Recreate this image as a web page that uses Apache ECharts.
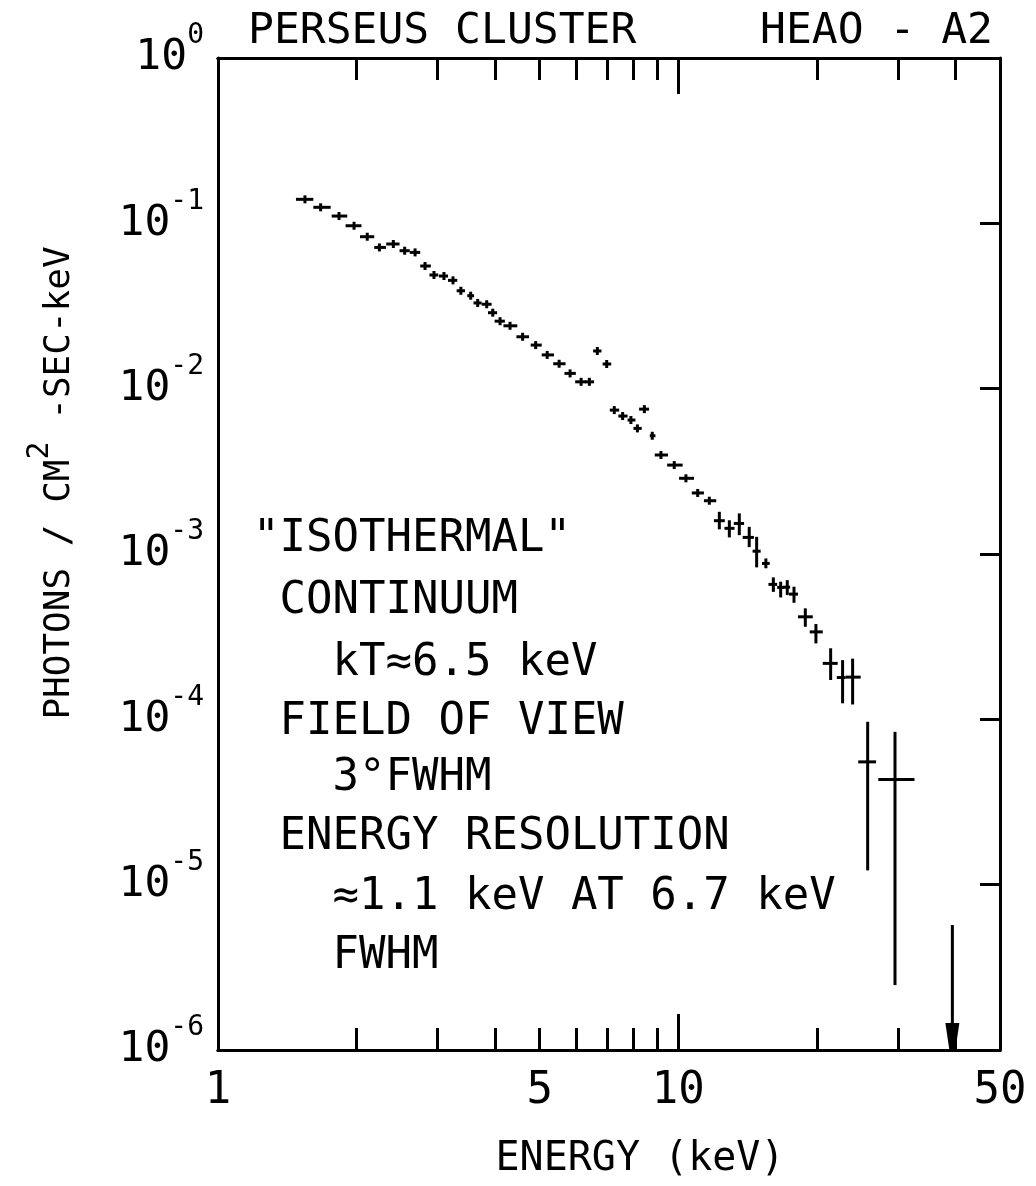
<!DOCTYPE html>
<html>
<head>
<meta charset="utf-8">
<script src="https://cdn.jsdelivr.net/npm/echarts@6/dist/echarts.min.js"></script>
<style>
html,body{margin:0;padding:0;background:#fff;}
#chart{width:1036px;height:1186px;}
</style>
</head>
<body>
<div id="chart"></div>
<script>
// ---------------- DATA ----------------
const energy = [1.545,1.671,1.832,1.975,2.11,2.242,2.404,2.544,2.68,2.817,2.946,3.097,3.24,3.37,3.54,3.666,3.835,3.953,4.10,4.31,4.59,4.90,5.19,5.51,5.82,6.15,6.41,6.67,6.99,7.26,7.57,7.89,8.15,8.44,8.78,9.17,9.80,10.39,11.02,11.68,12.28,12.91,13.57,14.26,14.80,15.50,16.09,16.69,17.25,17.84,18.88,19.91,21.43,22.75,23.92,25.79,29.57];
const flux = [0.1397,0.125,0.1107,0.0967,0.083,0.0715,0.075,0.0683,0.0667,0.0552,0.0487,0.048,0.0452,0.0391,0.0365,0.033,0.0324,0.0288,0.0256,0.024,0.0206,0.01835,0.016,0.01415,0.01237,0.0110,0.0110,0.0169,0.0141,0.00742,0.00683,0.00646,0.00575,0.00752,0.00519,0.00397,0.00345,0.00287,0.00234,0.0021,0.00159,0.00143,0.00153,0.00126,0.00104,0.000877,0.000655,0.000628,0.00063,0.000572,0.000417,0.000338,0.000218,0.000179,0.00018,5.53e-5,4.33e-5];
const energyLow = [1.477,1.611,1.766,1.893,2.035,2.185,2.32,2.48,2.61,2.75,2.88,3.02,3.16,3.30,3.48,3.59,3.74,3.86,3.99,4.17,4.45,4.78,5.05,5.35,5.66,5.97,6.27,6.53,6.85,7.10,7.41,7.76,7.99,8.22,8.67,8.89,9.46,10.04,10.7,11.37,11.95,12.60,13.2,13.8,14.5,15.2,15.7,16.4,16.9,17.4,18.2,19.3,20.6,22.1,23.1,24.6,27.2];
const energyHigh = [1.611,1.757,1.909,2.05,2.185,2.317,2.48,2.61,2.75,2.9,3.01,3.16,3.31,3.44,3.60,3.74,3.93,4.04,4.20,4.47,4.74,5.05,5.37,5.69,5.99,6.31,6.56,6.81,7.15,7.44,7.76,8.07,8.33,8.64,8.92,9.50,10.22,10.82,11.37,12.09,12.62,13.25,13.9,14.6,15.1,15.8,16.4,17.0,17.5,18.2,19.6,20.6,22.2,23.1,24.9,26.9,32.6];
const fluxLow = [null,null,null,null,null,null,null,null,null,null,null,null,null,null,null,null,null,null,null,null,null,null,null,null,null,null,null,null,null,null,null,null,null,null,null,null,null,null,null,null,0.00141,0.00126,0.0013,0.0011,0.00083,0.00082,0.00059,0.000546,0.000564,0.000507,0.000363,0.000288,0.000173,0.000125,0.000123,1.22e-5,2.47e-6];
const fluxHigh = [null,null,null,null,null,null,null,null,null,null,null,null,null,null,null,null,null,null,null,null,null,null,null,null,null,null,null,null,null,null,null,null,null,null,null,null,null,null,null,null,0.0018,0.0016,0.00176,0.00146,0.00127,0.00094,0.000722,0.00068,0.000695,0.000634,0.000469,0.000377,0.000269,0.000228,0.000233,9.66e-5,8.4e-5];
const limitEnergy = [39.4];
const limitFlux = [5.7e-6];

const xMinorTicks = [2,3,4,5,6,7,8,9,20,30,40];
const xMajorTicks = [10];
const xTickLabels = [1,5,10,50];
const yTickValues = [1e-6,1e-5,1e-4,1e-3,1e-2,1e-1,1];
const yRightTicks = [1e-5,1e-4,1e-3,1e-2,1e-1];

const titleLeft = 'PERSEUS CLUSTER';
const titleRight = 'HEAO - A2';
const xTitle = 'ENERGY (keV)';
const noteLines = ['"ISOTHERMAL"',' CONTINUUM','   kT≈6.5 keV',' FIELD OF VIEW','   3°FWHM',' ENERGY RESOLUTION','   ≈1.1 keV AT 6.7 keV','   FWHM'];

// ---------------- CHART ----------------
const FONT = "'DejaVu Sans Mono', monospace";
const BLACK = '#000';
const chart = echarts.init(document.getElementById('chart'), null, {renderer:'canvas'});

const lineStyle = {color: BLACK, width: 3};
function xAxisDef(position, ticks, len, labels) {
  return {
    type: 'log', logBase: 10, min: 1, max: 50, position: position,
    axisLine: {show: true, lineStyle: lineStyle},
    axisTick: {show: true, inside: true, length: len, customValues: ticks, lineStyle: lineStyle},
    axisLabel: labels ? {show: true, customValues: labels, margin: 20, color: BLACK, fontSize: 44, fontFamily: FONT,
      formatter: v => String(Math.round(v))} : {show: false},
    splitLine: {show: false}, minorTick: {show: false}
  };
}

const SMALL = 4;
function renderPoint(params, api) {
  const i = params.dataIndex;
  const c = api.coord([energy[i], flux[i]]);
  const l = api.coord([energyLow[i], flux[i]]);
  const r = api.coord([energyHigh[i], flux[i]]);
  let top = c[1] - SMALL, bot = c[1] + SMALL;
  if (fluxLow[i] != null) {
    top = api.coord([energy[i], fluxHigh[i]])[1];
    bot = api.coord([energy[i], fluxLow[i]])[1];
  }
  const st = {stroke: BLACK, lineWidth: 3};
  return {type: 'group', children: [
    {type: 'line', shape: {x1: l[0], y1: c[1], x2: r[0], y2: c[1]}, style: st},
    {type: 'line', shape: {x1: c[0], y1: top, x2: c[0], y2: bot}, style: st}
  ]};
}
function renderLimit(params, api) {
  const i = params.dataIndex;
  const p = api.coord([limitEnergy[i], limitFlux[i]]);
  const b = api.coord([limitEnergy[i], 1e-6]);
  const x = p[0], yb = b[1];
  return {type: 'group', children: [
    {type: 'line', shape: {x1: x, y1: p[1], x2: x, y2: yb - 20}, style: {stroke: BLACK, lineWidth: 3}},
    {type: 'polygon', shape: {points: [[x-7, yb-27],[x+7, yb-27],[x+3, yb],[x-3, yb]]}, style: {fill: BLACK}}
  ]};
}

const graphics = [
  {type: 'text', left: 248, top: 10, style: {text: titleLeft, font: '43px ' + FONT, fill: BLACK}},
  {type: 'text', left: 760, top: 10, style: {text: titleRight, font: '43px ' + FONT, fill: BLACK}},
  {type: 'text', x: 640, y: 1160, style: {text: xTitle, font: '40px ' + FONT, fill: BLACK, align: 'center', verticalAlign: 'middle'}},
  {type: 'text', x: 60, y: 483, rotation: Math.PI / 2,
    style: {text: '{a|PHOTONS / CM}{s|2}{a| -SEC-keV}', align: 'center', verticalAlign: 'middle',
      rich: {a: {fontSize: 36, fontFamily: FONT, fill: BLACK, color: BLACK, lineHeight: 70},
             s: {fontSize: 30, fontFamily: FONT, fill: BLACK, color: BLACK, lineHeight: 30, verticalAlign: 'top'}}}}
];
const noteY = [540, 602, 664, 723, 779, 838, 898, 957];
noteLines.forEach((t, k) => {
  graphics.push({type: 'text', x: 253, y: noteY[k], style: {text: t, font: '44px ' + FONT, fill: BLACK, verticalAlign: 'middle'}});
});

const option = {
  backgroundColor: '#fff',
  animation: false,
  grid: {left: 218, right: 36, top: 58, bottom: 136, show: false},
  xAxis: [
    xAxisDef('bottom', xMinorTicks, 22, null),
    xAxisDef('bottom', xMajorTicks, 36, xTickLabels),
    xAxisDef('top', xMinorTicks, 22, null),
    xAxisDef('top', xMajorTicks, 36, null)
  ],
  yAxis: [
    {type: 'log', logBase: 10, min: 1e-6, max: 1, position: 'left',
      axisLine: {show: true, lineStyle: lineStyle}, axisTick: {show: false}, splitLine: {show: false},
      axisLabel: {show: true, customValues: yTickValues, margin: 14,
        formatter: v => '{b|10}{s|' + Math.round(Math.log10(v)) + '}',
        rich: {b: {fontSize: 43, fontFamily: FONT, color: BLACK, lineHeight: 72},
               s: {fontSize: 28, fontFamily: FONT, color: BLACK, lineHeight: 28, verticalAlign: 'top'}}}},
    {type: 'log', logBase: 10, min: 1e-6, max: 1, position: 'right',
      axisLine: {show: true, lineStyle: lineStyle},
      axisTick: {show: true, inside: true, length: 20, customValues: yRightTicks, lineStyle: lineStyle},
      axisLabel: {show: false}, splitLine: {show: false}}
  ],
  series: [
    {type: 'custom', xAxisIndex: 0, yAxisIndex: 0, renderItem: renderPoint,
      data: energy.map((e, i) => [e, flux[i]]), clip: false, silent: true},
    {type: 'custom', xAxisIndex: 0, yAxisIndex: 0, renderItem: renderLimit,
      data: limitEnergy.map((e, i) => [e, limitFlux[i]]), clip: false, silent: true}
  ],
  graphic: graphics
};
chart.setOption(option);
</script>
</body>
</html>
